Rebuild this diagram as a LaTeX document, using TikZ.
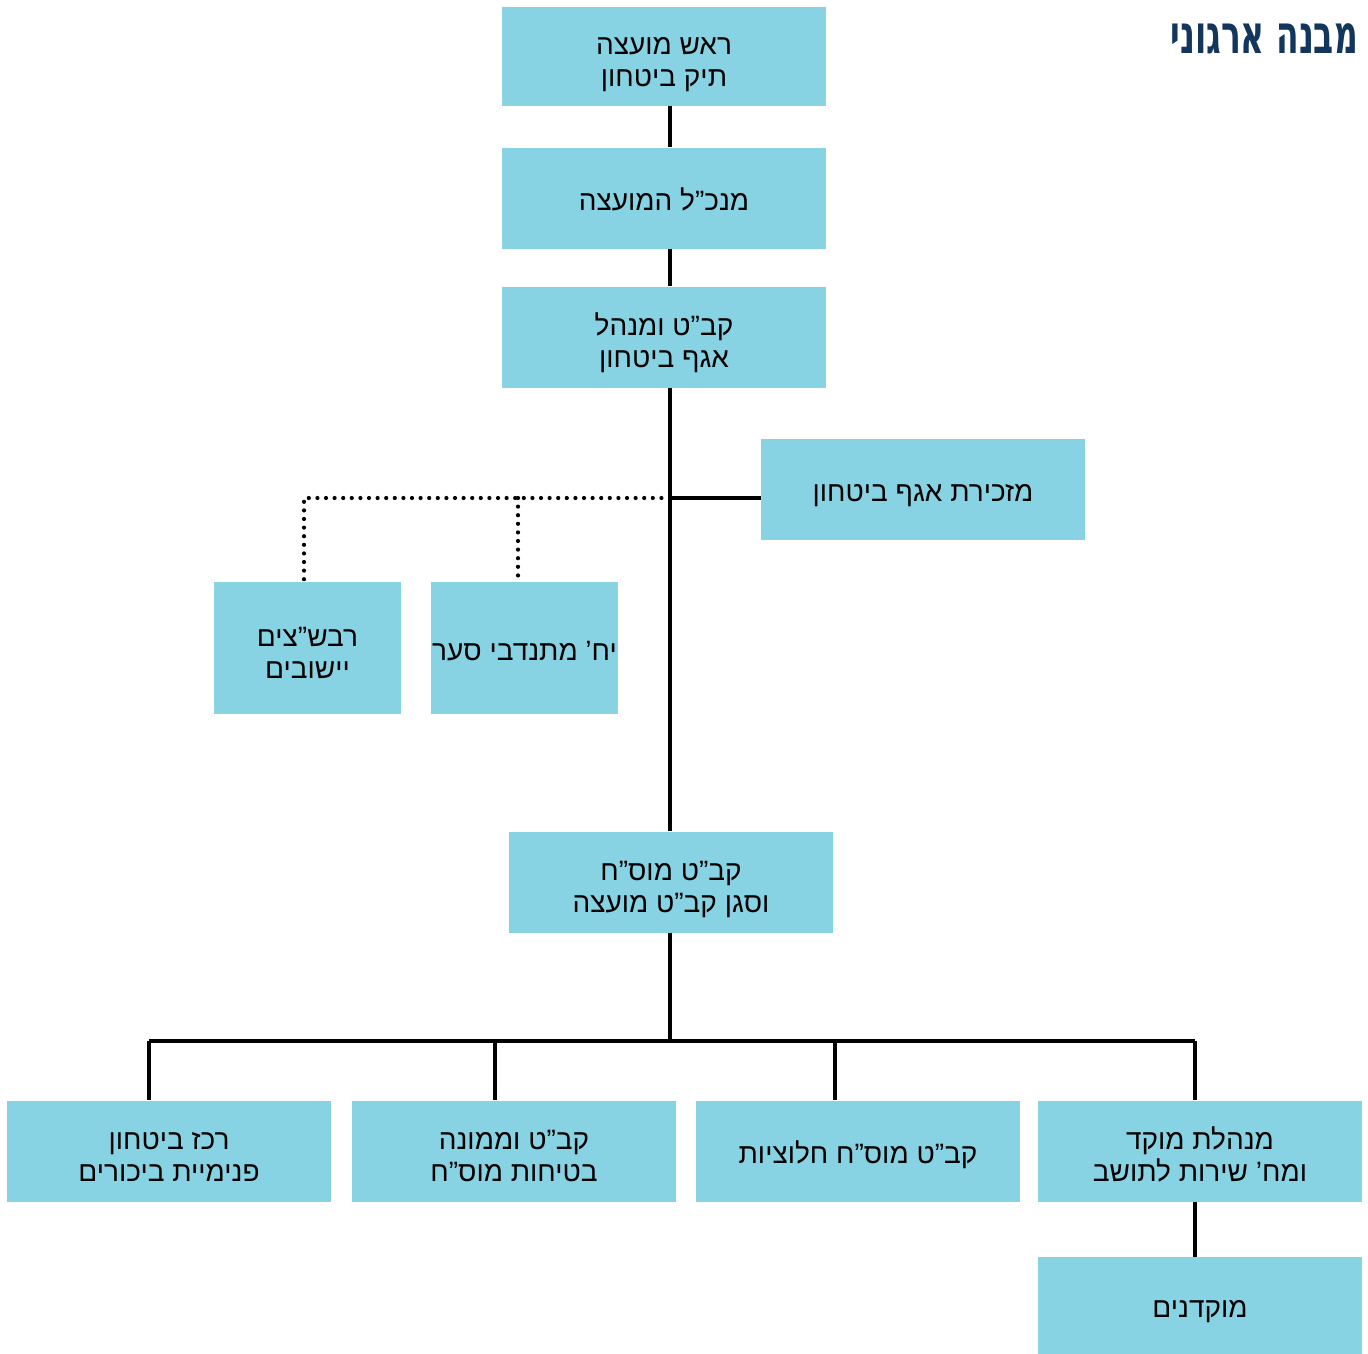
\documentclass[tikz,border=0pt]{standalone}
\usepackage{fontspec}
\newfontfamily\hebfont[Script=Hebrew]{Liberation Sans}
\newfontfamily\titlefont[Script=Hebrew]{DejaVu Sans Bold}
\TeXXeTstate=1
\newcommand{\heb}[1]{\beginR #1\endR}
\definecolor{boxblue}{HTML}{87D3E3}
\definecolor{titlenavy}{HTML}{12365C}
\tikzset{
	unit/.style={fill=boxblue, minimum width=324pt, minimum height=101pt, inner sep=0pt, text height=24pt, text depth=0pt, align=center, font=\hebfont\fontsize{28}{32}\selectfont},
	twoline/.style={text height=60pt},
	smallunit/.style={unit, minimum width=187pt, minimum height=132pt},
	link/.style={line width=3.5pt},
	dotlink/.style={line width=4.2pt, line cap=round, dash pattern=on 0pt off 8.6pt}
}

\begin{document}
\begin{tikzpicture}[x=1pt, y=-1pt]
		%%%%% START %%%%%
		\useasboundingbox (0,0) rectangle (1368,1354);
		
		\node[anchor=base east, inner sep=0pt, xscale=0.61, text=titlenavy, font=\titlefont\fontsize{54}{54}\selectfont] (title) at (1358,54) {\heb{מבנה ארגוני}};
		
		\node[unit, twoline, minimum height=99pt] (head) at (664,56.5) {\heb{ראש מועצה}\\\heb{תיק ביטחון}};
		\node[unit] (ceo) at (664,198) {\heb{מנכ”ל המועצה}};
		\node[unit, twoline] (kabat) at (664,337) {\heb{קב”ט ומנהל}\\\heb{אגף ביטחון}};
		\node[unit] (secr) at (923,489) {\heb{מזכירת אגף ביטחון}};
		
		\node[smallunit, twoline] (ravshatz) at (307.5,648) {\heb{רבש”צים}\\\heb{יישובים}};
		\node[smallunit] (saar) at (524.5,648) {\heb{יח’ מתנדבי סער}};
		
		\node[unit, twoline] (mosach) at (671,882) {\heb{קב”ט מוס”ח}\\\heb{וסגן קב”ט מועצה}};
		
		\node[unit, twoline] (bikurim) at (169,1151) {\heb{רכז ביטחון}\\\heb{פנימיית ביכורים}};
		\node[unit, twoline] (safety) at (514,1151) {\heb{קב”ט וממונה}\\\heb{בטיחות מוס”ח}};
		\node[unit] (halutza) at (858,1151) {\heb{קב”ט מוס”ח חלוציות}};
		\node[unit, twoline] (moked) at (1200,1151) {\heb{מנהלת מוקד}\\\heb{ומח’ שירות לתושב}};
		\node[unit, minimum height=97pt] (callers) at (1200,1305.5) {\heb{מוקדנים}};
		
		\coordinate (hub) at (670,498);
		\coordinate (dotL) at (304,498);
		\coordinate (dotM) at (518,498);
		\coordinate (bus) at (670,1041);
		\coordinate (busL) at (149,1041);
		\coordinate (busM) at (495,1041);
		\coordinate (busN) at (835,1041);
		\coordinate (busR) at (1195,1041);
		
		% main spine
		\draw[link] (head.south -| hub) -- (ceo.north -| hub);
		\draw[link] (ceo.south -| hub) -- (kabat.north -| hub);
		\draw[link] (kabat.south -| hub) -- (mosach.north -| hub);
		\draw[link] (hub) -- (hub -| secr.west);
		
		% volunteers
		\draw[dotlink] (hub) -- (dotL) -- (dotL |- ravshatz.north);
		\draw[dotlink] (dotM) -- (dotM |- saar.north);
		
		% bottom row
		\draw[link] (mosach.south -| hub) -- (bus);
		\draw[link] (busL) -- (busR);
		\draw[link] (busL) -- (busL |- bikurim.north);
		\draw[link] (busM) -- (busM |- safety.north);
		\draw[link] (busN) -- (busN |- halutza.north);
		\draw[link] (busR) -- (busR |- moked.north);
		\draw[link] (moked.south -| busR) -- (callers.north -| busR);
		
		%%%%% END %%%%%
	\end{tikzpicture}
\end{document}
